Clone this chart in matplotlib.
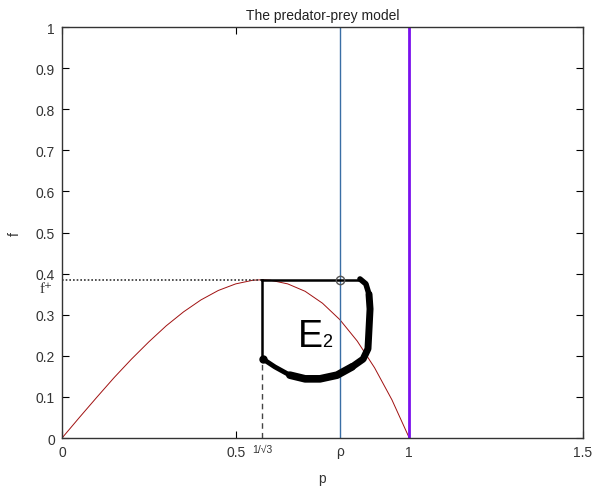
import matplotlib.pyplot as plt

plt.rcParams['font.family'] = ['Liberation Sans', 'DejaVu Sans']

# prey/predator nullcline f(p)
p_curve = [0, 0.05, 0.1, 0.15, 0.2, 0.25, 0.3, 0.35, 0.4, 0.45, 0.5, 0.55, 0.577,
           0.6, 0.65, 0.7, 0.75, 0.8, 0.85, 0.9, 0.95, 1.0]
f_curve = [0, 0.050, 0.099, 0.147, 0.192, 0.234, 0.273, 0.307, 0.336, 0.359, 0.375, 0.384, 0.385,
           0.384, 0.375, 0.357, 0.328, 0.288, 0.236, 0.171, 0.093, 0]

rho = 0.8
p_crit = 0.577
f_star = 0.385

# sketched boundary of the region E2
loop_p = [0.858, 0.875, 0.884, 0.887, 0.884, 0.881, 0.867, 0.835, 0.792, 0.743, 0.700, 0.656, 0.613, 0.579]
loop_f = [0.387, 0.375, 0.350, 0.314, 0.265, 0.217, 0.192, 0.173, 0.153, 0.144, 0.144, 0.153, 0.173, 0.192]

x_ticks = [0, 0.5, 1, 1.5]
x_ticklabels = ['0', '0.5', '1', '1.5']
y_ticks = [0, 0.1, 0.2, 0.3, 0.4, 0.5, 0.6, 0.7, 0.8, 0.9, 1]
y_ticklabels = ['0', '0.1', '0.2', '0.3', '0.4', '0.5', '0.6', '0.7', '0.8', '0.9', '1']

fig = plt.figure(figsize=(5.93, 4.89), dpi=100)
ax = fig.add_axes([0.1046, 0.1022, 0.8784, 0.8405])

ax.plot(p_curve, f_curve, color='#a01010', lw=0.7)
ax.axvline(rho, color='#3a6ea5', lw=1.0)
ax.axvline(1.0, color='#7a10ee', lw=2.0)

# guides to the maximum of the curve
ax.plot([0, p_crit], [f_star, f_star], color='#333333', lw=1.2, ls=(0, (1, 1.2)))
ax.plot([p_crit, p_crit], [0, loop_f[-1]], color='#444444', lw=1.0, ls=(0, (4, 3)))

# square part of the sketch
ax.plot([p_crit, p_crit], [loop_f[-1], f_star], color='black', lw=1.8)
ax.plot([p_crit, loop_p[0]], [f_star, f_star], color='black', lw=1.8)
ax.plot(loop_p[:3], loop_f[:3], color='black', lw=4, solid_capstyle='round')
ax.plot(loop_p[2:8], loop_f[2:8], color='black', lw=5, solid_capstyle='round')
ax.plot(loop_p[7:12], loop_f[7:12], color='black', lw=5.5, solid_capstyle='round')
ax.plot(loop_p[11:], loop_f[11:], color='black', lw=3.5, solid_capstyle='round')
ax.plot([loop_p[-1]], [loop_f[-1]], 'o', color='black', ms=5)
ax.plot([rho], [f_star], 'o', mfc='none', mec='#555555', ms=6, mew=1)

ax.text(0.68, 0.225, 'E', fontsize=27, ha='left', va='baseline', color='black')
ax.text(0.748, 0.225, '2', fontsize=13, ha='left', va='baseline', color='black')

ax.set_xlim(0, 1.5)
ax.set_ylim(0, 1)
ax.set_xticks(x_ticks)
ax.set_xticklabels(x_ticklabels)
ax.set_yticks(y_ticks)
ax.set_yticklabels(y_ticklabels)
ax.tick_params(direction='in', length=5, top=True, right=True, labelsize=10,
               labelcolor='#333333', pad=5)

# extra labels on the axes
ax.text(p_crit, -0.014, '1/\u221a3', fontsize=7.5, ha='center', va='top', color='#333333')
ax.text(rho, -0.014, '\u03c1', fontsize=10, ha='center', va='top', color='#333333')
ax.text(-0.026, f_star - 0.006, 'f\u207a', fontsize=11, ha='right', va='top',
        color='#333333', family=['Liberation Serif', 'DejaVu Serif'])

ax.set_xlabel('p', fontsize=10, color='#333333', labelpad=9)
ax.set_ylabel('f', fontsize=10, color='#333333', labelpad=10)
ax.set_title('The predator-prey model', fontsize=10, color='#222222', pad=6)

for s in ax.spines.values():
    s.set_color('#333333')
    s.set_linewidth(1.0)

fig.savefig('out.png', dpi=100)
